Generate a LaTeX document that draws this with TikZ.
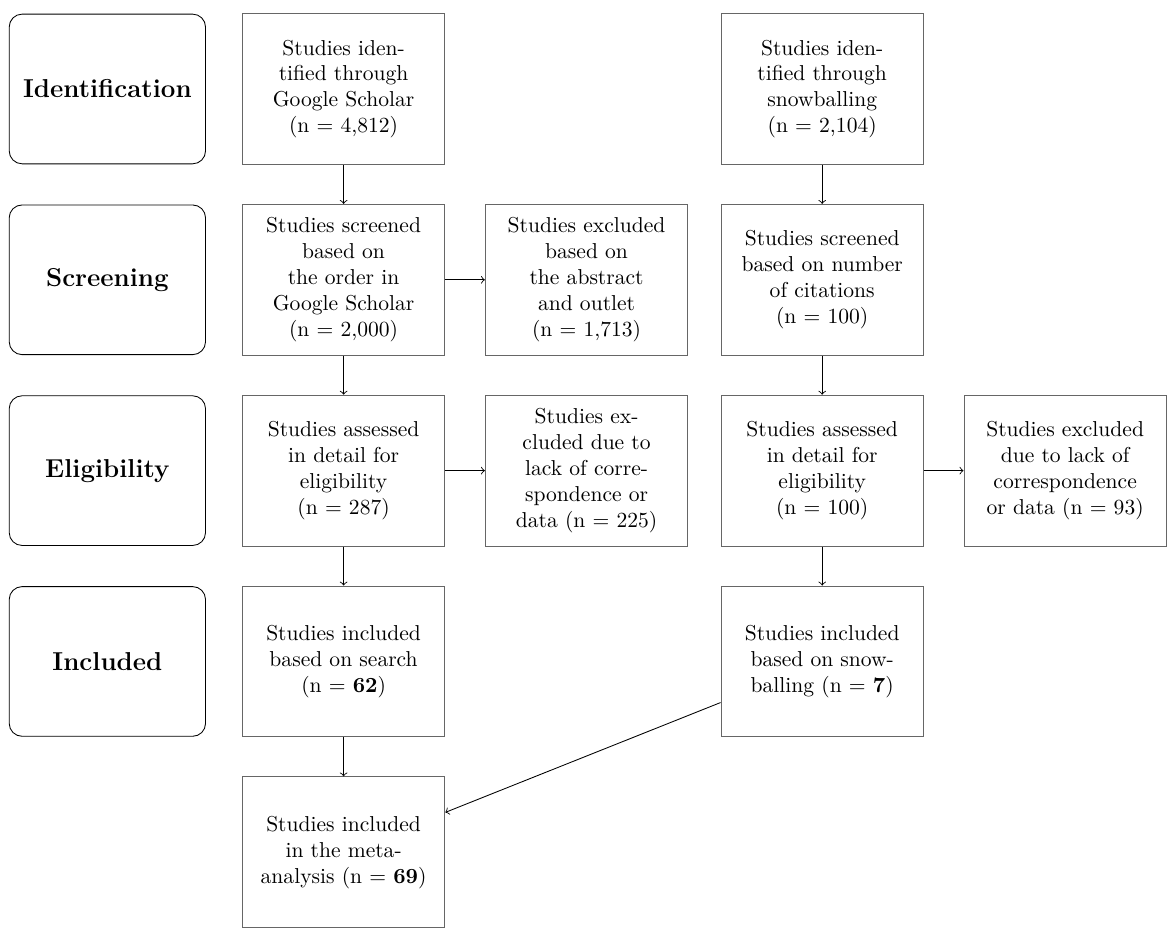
\documentclass[tikz,border=0pt]{standalone}
\usetikzlibrary{arrows,positioning}
\tikzstyle{stage}=[draw,rounded corners=6pt,minimum width=3.2cm,minimum height=2.44cm,font=\large\bfseries]
\tikzstyle{study}=[draw=black!60,minimum width=3.3cm,minimum height=2.46cm,align=center]
\tikzstyle{every edge}=[draw,->,>=to]

\begin{document}
\begin{tikzpicture}[node distance=3.11cm and 3.85cm,on grid]
  \useasboundingbox (-1.75,1.45) rectangle (17.4,-13.84);
  \node[stage]        (ident){Identification};
  \node[stage]        (screen) [below=of ident] {Screening};
  \node[stage]        (elig) [below=of screen] {Eligibility};
  \node[stage]        (incl) [below=of elig] {Included};

  \node[study]        (gs) [right=of ident] {Studies iden-\\tified through\\Google Scholar\\(n = 4,812)};
  \node[study]        (gsscr) [below=of gs] {Studies screened\\based on\\the order in\\Google Scholar\\(n = 2,000)};
  \node[study]        (gsexc) [right=3.96cm of gsscr] {Studies excluded\\based on\\the abstract\\and outlet\\(n = 1,713)};
  \node[study]        (gsass) [below=of gsscr] {Studies assessed\\in detail for\\eligibility\\(n = 287)};
  \node[study]        (gsexc2) [right=3.96cm of gsass] {Studies ex-\\cluded due to\\lack of corre-\\spondence or\\data (n = 225)};
  \node[study]        (gsinc) [below=of gsass] {Studies included\\based on search\\(n = \textbf{62})};
  \node[study]        (meta) [below=of gsinc] {Studies included\\in the meta-\\analysis (n = \textbf{69})};

  \node[study]        (sb) [right=7.8cm of gs] {Studies iden-\\tified through\\snowballing\\(n = 2,104)};
  \node[study]        (sbscr) [below=of sb] {Studies screened\\based on number\\of citations\\(n = 100)};
  \node[study]        (sbass) [below=of sbscr] {Studies assessed\\in detail for\\eligibility\\(n = 100)};
  \node[study]        (sbexc) [right=3.96cm of sbass] {Studies excluded\\due to lack of\\correspondence\\or data (n = 93)};
  \node[study]        (sbinc) [below=of sbass] {Studies included\\based on snow-\\balling (n = \textbf{7})};

  \path (gs) edge (gsscr)
        (gsscr) edge (gsexc)
                edge (gsass)
        (gsass) edge (gsexc2)
                edge (gsinc)
        (gsinc) edge (meta)
        (sb) edge (sbscr)
        (sbscr) edge (sbass)
        (sbass) edge (sbexc)
                edge (sbinc)
        ([yshift=-0.67cm]sbinc.west) edge ([yshift=0.65cm]meta.east);
\end{tikzpicture}
\end{document}
